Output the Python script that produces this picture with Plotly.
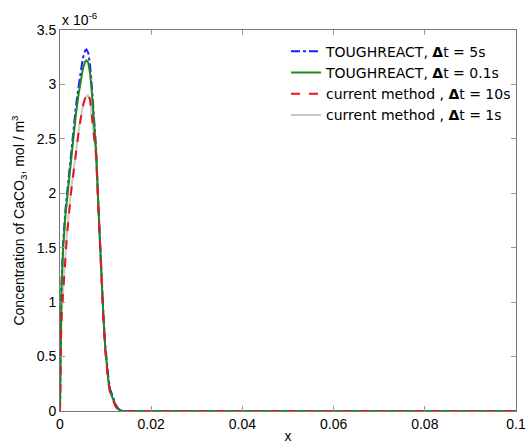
import plotly.graph_objects as go

# x positions (m) and concentrations (units of 1e-6 mol/m^3)
x_tr = [0, 0.0001, 0.0003, 0.0007, 0.0012, 0.0018, 0.0024, 0.003, 0.0035, 0.004, 0.0045,
        0.005, 0.0055, 0.0058, 0.0062, 0.0066, 0.007, 0.0075, 0.0079, 0.0085, 0.0091,
        0.0095, 0.0099, 0.0103, 0.0106, 0.011, 0.0117, 0.0122, 0.0127, 0.0132, 0.014, 0.1]
y_tr5 = [0, 0.65, 1.15, 1.55, 1.85, 2.1, 2.36, 2.6, 2.8, 2.96, 3.12, 3.24, 3.31, 3.32, 3.29,
         3.17, 2.97, 2.68, 2.42, 1.82, 1.22, 0.9, 0.62, 0.43, 0.31, 0.2, 0.12, 0.06, 0.025,
         0.008, 0, 0]
y_tr01 = [0, 0.6, 1.1, 1.5, 1.8, 2.05, 2.31, 2.55, 2.73, 2.89, 3.03, 3.14, 3.21, 3.22, 3.2,
          3.1, 2.92, 2.65, 2.40, 1.8, 1.20, 0.88, 0.59, 0.4, 0.28, 0.18, 0.10, 0.05, 0.02,
          0.005, 0, 0]
x_cm = [0, 0.0001, 0.0004, 0.0009, 0.0015, 0.0024, 0.0033, 0.0042, 0.005, 0.0056, 0.0061,
        0.0066, 0.007, 0.0075, 0.0079, 0.0085, 0.0091, 0.0095, 0.0099, 0.0103, 0.0106, 0.011,
        0.0117, 0.0122, 0.0127, 0.0132, 0.014, 0.1]
y_cm10 = [0, 0.5, 0.9, 1.2, 1.6, 2.0, 2.31, 2.6, 2.8, 2.89, 2.92, 2.86, 2.7, 2.5, 2.35, 1.78,
          1.18, 0.86, 0.57, 0.38, 0.26, 0.16, 0.08, 0.04, 0.015, 0.003, 0, 0]
y_cm1 = [0, 0.52, 0.92, 1.22, 1.62, 2.02, 2.33, 2.61, 2.8, 2.88, 2.9, 2.85, 2.7, 2.5, 2.36,
         1.8, 1.2, 0.88, 0.58, 0.39, 0.27, 0.17, 0.09, 0.045, 0.018, 0.004, 0, 0]

x_ticks = [0, 0.02, 0.04, 0.06, 0.08, 0.1]
x_ticklabels = ["0", "0.02", "0.04", "0.06", "0.08", "0.1"]
y_ticks = [0, 0.5, 1, 1.5, 2, 2.5, 3, 3.5]
y_ticklabels = ["0", "0.5", "1", "1.5", "2", "2.5", "3", "3.5"]

names = ["TOUGHREACT, <b>Δ</b>t = 5s", "TOUGHREACT, <b>Δ</b>t = 0.1s",
         "current method , <b>Δ</b>t = 10s", "current method , <b>Δ</b>t = 1s"]

fig = go.Figure()
fig.add_trace(go.Scatter(x=x_cm, y=y_cm1, mode="lines", name=names[3], legendrank=4,
                         line=dict(color="#c8c8c8", width=2)))
fig.add_trace(go.Scatter(x=x_tr, y=y_tr5, mode="lines", name=names[0], legendrank=1,
                         line=dict(color="#1f1fff", width=2, dash="dashdot")))
fig.add_trace(go.Scatter(x=x_tr, y=y_tr01, mode="lines", name=names[1], legendrank=2,
                         line=dict(color="#1a8a1a", width=2)))
fig.add_trace(go.Scatter(x=x_cm, y=y_cm10, mode="lines", name=names[2], legendrank=3,
                         line=dict(color="#e8141e", width=2, dash="dash")))

axis_common = dict(showline=True, linecolor="#777777", linewidth=1, mirror="ticks",
                   ticks="inside", ticklen=5, tickcolor="#999999", showgrid=False,
                   zeroline=False, automargin=False,
                   tickfont=dict(family="Liberation Sans, Arial", size=14, color="black"))

fig.update_xaxes(range=[0, 0.1], tickvals=x_ticks, ticktext=x_ticklabels,
                 title=dict(text="x", font=dict(family="Liberation Sans, Arial", size=14,
                                                 color="black"), standoff=0),
                 **axis_common)
fig.update_yaxes(range=[0, 3.5], tickvals=y_ticks, ticktext=y_ticklabels,
                 title=dict(text="Concentration of CaCO<sub>3</sub>, mol / m<sup>3</sup>",
                            font=dict(family="Liberation Sans Narrow, Liberation Sans, Arial",
                                      size=14, color="black"), standoff=8),
                 **axis_common)

fig.add_annotation(text="x 10<sup>-6</sup>", xref="paper", yref="paper", x=0, y=1,
                   xanchor="left", yanchor="bottom", showarrow=False, yshift=0,
                   font=dict(family="Liberation Sans, Arial", size=14, color="black"))

fig.update_layout(
    width=530, height=444,
    margin=dict(l=60, r=14, t=30, b=33),
    paper_bgcolor="white", plot_bgcolor="white",
    showlegend=True,
    legend=dict(x=1.0, y=0.985, xanchor="right", yanchor="top", bgcolor="rgba(0,0,0,0)",
                font=dict(family="DejaVu Sans, Liberation Sans", size=14, color="black"),
                itemwidth=30, tracegroupgap=0),
)

fig.write_html("out.html")
